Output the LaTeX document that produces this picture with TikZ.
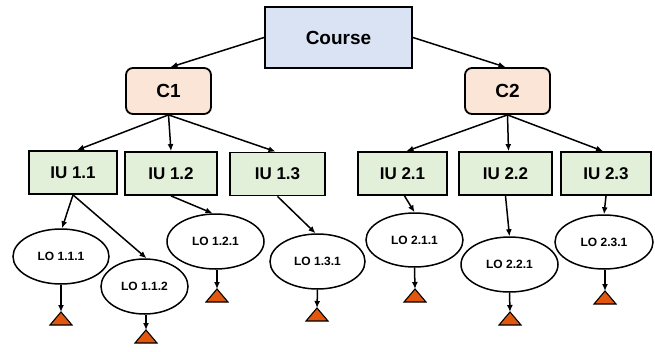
\documentclass[tikz,border=0pt]{standalone}
\usepackage{fontspec}
\setmainfont{Liberation Sans}
\usetikzlibrary{shapes.geometric,arrows.meta}
\definecolor{coursefill}{HTML}{DAE3F3}
\definecolor{cfill}{HTML}{FBE5D6}
\definecolor{iufill}{HTML}{E2F0D9}
\definecolor{trifill}{HTML}{E2570E}
\tikzset{
  coursebox/.style={draw=black, line width=2pt, fill=coursefill, inner sep=0pt, minimum width=147pt, minimum height=61pt, font=\fontsize{19}{22}\selectfont\bfseries},
  cbox/.style={draw=black, line width=1.8pt, fill=cfill, rounded corners=7pt, inner sep=0pt, minimum width=85pt, minimum height=46pt, font=\fontsize{19}{22}\selectfont\bfseries},
  iubox/.style={draw=black, line width=1.8pt, fill=iufill, inner sep=0pt, minimum height=43pt, font=\fontsize{17}{20}\selectfont\bfseries},
  lonode/.style={ellipse, draw=black, line width=1.5pt, fill=white, inner sep=0pt, minimum height=55pt, font=\fontsize{12}{14}\selectfont\bfseries},
  conn/.style={line width=1.5pt, -{Latex[length=7pt,width=6pt]}},
  tri/.style={draw=black, line width=1.1pt, fill=trifill, line join=miter},
}
\newcommand{\mytri}[2]{%
  \coordinate (#1) at (#2);
  \draw[tri] (#1) -- ++(11,13) -- ++(-22,0) -- cycle;
}
\begin{document}
\begin{tikzpicture}[x=1pt,y=-1pt]
\useasboundingbox (0,0) rectangle (655,351);
\fill[white] (0,0) rectangle (655,351);

\node[coursebox] (course) at (338.5,37.5) {Course};
\node[cbox] (c1) at (168.5,91) {C1};
\node[cbox] (c2) at (507.5,91) {C2};

\node[iubox, minimum width=88pt] (iu11) at (73,172.5) {IU 1.1};
\node[iubox, minimum width=92pt] (iu12) at (171,173.5) {IU 1.2};
\node[iubox, minimum width=95pt] (iu13) at (277.5,174) {IU 1.3};
\node[iubox, minimum width=89pt] (iu21) at (402.5,173.5) {IU 2.1};
\node[iubox, minimum width=93pt] (iu22) at (505.5,173.5) {IU 2.2};
\node[iubox, minimum width=90pt] (iu23) at (606,173.5) {IU 2.3};

\node[lonode, minimum width=96pt] (lo111) at (61,256.5) {LO 1.1.1};
\node[lonode, minimum width=87pt] (lo112) at (144.5,286.5) {LO 1.1.2};
\node[lonode, minimum width=97pt] (lo121) at (215.5,241.5) {LO 1.2.1};
\node[lonode, minimum width=95pt] (lo131) at (317.5,261.5) {LO 1.3.1};
\node[lonode, minimum width=97pt, minimum height=54pt] (lo211) at (414.5,240) {LO 2.1.1};
\node[lonode, minimum width=97pt] (lo221) at (509.5,264.5) {LO 2.2.1};
\node[lonode, minimum width=98pt, minimum height=54pt] (lo231) at (604,242) {LO 2.3.1};

\mytri{t111}{61,312}
\mytri{t112}{146,330}
\mytri{t121}{217,289}
\mytri{t131}{317,308}
\mytri{t211}{415,289}
\mytri{t221}{510,312}
\mytri{t231}{605,291}

\draw[conn] (course.west) -- ([xshift=2pt]c1.north);
\draw[conn] (course.east) -- ([xshift=-2pt]c2.north);

\draw[conn] (c1.south) -- ([xshift=4pt]iu11.north);
\draw[conn] (c1.south) -- (iu12.north);
\draw[conn] (c1.south) -- ([xshift=-2pt]iu13.north);
\draw[conn] (c2.south) -- ([xshift=4pt]iu21.north);
\draw[conn] (c2.south) -- ([xshift=3pt]iu22.north);
\draw[conn] (c2.south) -- ([xshift=-3pt]iu23.north);

\draw[conn] (iu11.south) -- ([xshift=1pt]lo111.north);
\draw[conn] (iu11.south) -- ([xshift=2pt]lo112.north);
\draw[conn] (iu12.south) -- ([xshift=-3pt]lo121.north);
\draw[conn] (iu13.south) -- ([xshift=-2pt]lo131.north);
\draw[conn] ([xshift=2pt]iu21.south) -- (lo211.north);
\draw[conn] (iu22.south) -- (lo221.north);
\draw[conn] (iu23.south) -- (lo231.north);

\draw[conn] (lo111.south) -- (t111);
\draw[conn] ([xshift=1.5pt]lo112.south) -- (t112);
\draw[conn] ([xshift=1.5pt]lo121.south) -- (t121);
\draw[conn] (lo131.south) -- (t131);
\draw[conn] (lo211.south) -- (t211);
\draw[conn] (lo221.south) -- (t221);
\draw[conn] ([xshift=1pt]lo231.south) -- (t231);
\end{tikzpicture}
\end{document}
